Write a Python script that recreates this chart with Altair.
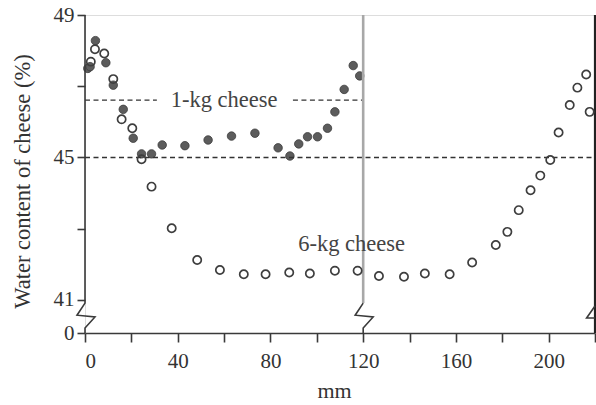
import altair as alt
import pandas as pd

# ---------------- data ----------------
kg1_x = [1.2, 2.2, 4.5, 9.0, 12.2, 16.5, 20.8, 24.4, 28.7, 33.3, 43.1, 53.1, 63.2,
         73.3, 83.3, 88.4, 92.2, 96.0, 100.3, 104.6, 107.8, 111.8, 115.7, 118.5]
kg1_y = [47.50, 47.55, 48.28, 47.66, 47.03, 46.35, 45.54, 45.10, 45.10, 45.35, 45.33, 45.49, 45.60,
         45.68, 45.27, 45.04, 45.38, 45.58, 45.58, 45.82, 46.28, 46.91, 47.58, 47.29]

kg6_x = [2.5, 4.3, 8.3, 12.2, 15.8, 20.4, 24.4, 28.7, 37.4, 48.4, 58.2, 68.5, 77.9,
         88.1, 97.0, 107.8, 117.6, 126.8, 137.6, 146.6, 157.3, 167.0, 177.2, 182.2,
         187.1, 192.2, 196.4, 200.7, 204.3, 209.1, 212.4, 216.2, 217.7]
kg6_y = [47.69, 48.04, 47.92, 47.20, 46.07, 45.82, 44.95, 44.18, 43.01, 42.12, 41.84, 41.72, 41.72,
         41.77, 41.74, 41.82, 41.82, 41.67, 41.65, 41.74, 41.72, 42.05, 42.54, 42.91,
         43.52, 44.08, 44.49, 44.93, 45.70, 46.47, 46.96, 47.33, 46.28]

x_ticks = [0, 20, 40, 60, 80, 100, 120, 140, 160, 180, 200, 220]
y_ticks = [41, 43, 45, 47, 49]
y_zero_pos = 40.07          # where the broken axis shows "0"
x_max = 220
y_max = 49

mean_1kg = 46.61
mean_6kg = 45.0
label_1kg = "1-kg cheese"
label_6kg = "6-kg cheese"
split_mm = 120               # edge of the 1-kg cheese

FONT = "Liberation Serif"
INK = "#3a3a3a"

# ---------------- tables ----------------
df1 = pd.DataFrame({"x": kg1_x, "y": kg1_y})
df6 = pd.DataFrame({"x": kg6_x, "y": kg6_y})

# broken-axis glyph (offsets in mm / %)
brk_dx = [0, -3.45, 4.3, 0]
brk_dy = [40.91, 40.57, 40.52, 40.21]

rows = []
pts = [(0, y_max)] + [(0 + dx, dy) for dx, dy in zip(brk_dx, brk_dy)] + [(0, y_zero_pos)]
rows += [{"g": "yaxis", "o": i, "x": a, "y": b} for i, (a, b) in enumerate(pts)]
pts = [(split_mm + dx, dy) for dx, dy in zip(brk_dx, brk_dy)] + [(split_mm, y_zero_pos)]
rows += [{"g": "split", "o": i, "x": a, "y": b} for i, (a, b) in enumerate(pts)]
pts = [(x_max, brk_dy[0] - 0.08), (x_max + brk_dx[1] * 1.05, brk_dy[1] - 0.08), (x_max, brk_dy[2] - 0.03)]
rows += [{"g": "right", "o": i, "x": a, "y": b} for i, (a, b) in enumerate(pts)]
breaks = pd.DataFrame(rows)

xs = alt.Scale(domain=[0, x_max], nice=False, zero=False)
ys = alt.Scale(domain=[y_zero_pos, y_max], nice=False, zero=False)

x_axis = alt.Axis(values=x_ticks, title="mm",
                  labelExpr="datum.value % 40 == 0 && datum.value <= 200 ? datum.label : ''",
                  domainColor=INK, domainWidth=1.6, tickColor=INK, tickWidth=1.6, tickSize=9,
                  labelFont=FONT, labelFontSize=21, labelColor="#333", labelPadding=8,
                  titleFont=FONT, titleFontSize=22, titleFontWeight="normal", titleColor="#333",
                  titlePadding=9, titleX=249, grid=False)
y_axis = alt.Axis(values=[y_zero_pos] + y_ticks, title="Water content of cheese (%)",
                  labelExpr="datum.value < 40.5 ? '0' : (datum.value % 4 == 1 ? datum.label : '')",
                  domain=False, tickColor=INK, tickWidth=1.6, tickSize=8,
                  labelFont=FONT, labelFontSize=21, labelColor="#333", labelPadding=3,
                  titleFont=FONT, titleFontSize=22.5, titleFontWeight="normal", titleColor="#333",
                  titlePadding=19, titleY=166, grid=False)

X = alt.X("x:Q", scale=xs, axis=x_axis)
Y = alt.Y("y:Q", scale=ys, axis=y_axis)

base_x = alt.X("x:Q", scale=xs)
base_y = alt.Y("y:Q", scale=ys)

dash = pd.DataFrame({
    "x": [0, 0, 89.7],
    "x2": [x_max, 31.0, split_mm],
    "y": [mean_6kg, mean_1kg, mean_1kg],
})
dash_layer = alt.Chart(dash).mark_rule(color="#333", strokeWidth=1.4, strokeDash=[5, 3.5]).encode(
    x=base_x, x2="x2:Q", y=base_y)

vl = pd.DataFrame({"x": [split_mm], "y": [y_max], "y2": [brk_dy[0]]})
split_layer = alt.Chart(vl).mark_rule(color="#a8a8a8", strokeWidth=2.6).encode(
    x=base_x, y=base_y, y2="y2:Q")
re = pd.DataFrame({"x": [x_max], "y": [y_max], "y2": [y_zero_pos]})
right_layer = alt.Chart(re).mark_rule(color="#222", strokeWidth=2.2).encode(
    x=base_x, y=base_y, y2="y2:Q")

break_layer = alt.Chart(breaks).mark_line(color=INK, strokeWidth=1.6).encode(
    x=base_x, y=base_y, detail="g:N", order="o:Q")

filled = alt.Chart(df1).mark_circle(size=72, color="#5c5c5c", stroke="#3c3c3c",
                                    strokeWidth=0.8, opacity=1).encode(x=X, y=Y)
opened = alt.Chart(df6).mark_point(shape="circle", size=68, filled=False, stroke="#3e3e3e",
                                   strokeWidth=1.7, opacity=1).encode(x=base_x, y=base_y)

texts = pd.DataFrame({"x": [60, 115], "y": [mean_1kg, 42.56], "t": [label_1kg, label_6kg]})
text_layer = alt.Chart(texts).mark_text(font=FONT, fontSize=22.5, color="#444",
                                        baseline="middle", align="center").encode(
    x=base_x, y=base_y, text="t:N")

chart = alt.layer(
    filled, dash_layer, split_layer, right_layer, break_layer, opened, text_layer
).properties(
    width=510, height=318,
    autosize=alt.AutoSizeParams(type="none"),
    padding={"left": 85, "top": 15, "right": 1, "bottom": 72},
).configure_view(stroke=None).configure(background="white")

chart.save("out.html", embed_options={"renderer": "svg", "actions": False})
